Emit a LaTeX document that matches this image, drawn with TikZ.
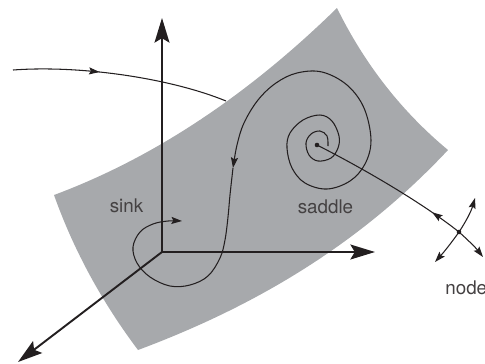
\documentclass[tikz,border=0pt]{standalone}
\usepackage{fontspec}
\setsansfont{TeX Gyre Heros}
\usetikzlibrary{arrows.meta,decorations.markings}
\definecolor{sheetgray}{RGB}{167,169,172}
\definecolor{inkblack}{RGB}{35,31,32}

\begin{document}
\begin{tikzpicture}[x=0.02cm, y=-0.02cm,
    axis/.style={line width=1.1pt, inkblack, -{Stealth[length=14pt, width=8.5pt, inset=2.5pt]}},
    flow/.style={line width=0.6pt, inkblack},
    tip/.style={-{Stealth[length=6pt, width=4pt, inset=1pt]}},
    midarrow/.style={postaction={decorate}, decoration={markings,
        mark=at position #1 with {\arrow{Stealth[length=6pt, width=4pt, inset=1pt]}}}},
    backarrow/.style={postaction={decorate}, decoration={markings,
        mark=at position #1 with {\arrowreversed{Stealth[length=6pt, width=4pt, inset=1pt]}}}},
    fixdot/.style={circle, fill=inkblack, inner sep=0pt, minimum size=2.6pt},
    lbl/.style={font=\sffamily\fontsize{10.7}{12}\selectfont, text=inkblack!85, anchor=base, inner sep=0pt}]
    \useasboundingbox (0,0) rectangle (485,363);

    % orbit coming in from outside, passing behind the sheet
    \coordinate (inA) at (13,70);
    \coordinate (inB) at (226,101);
    \draw[flow, midarrow=0.4] (inA) .. controls (80,65) and (170,78) .. (inB);

    % curved sheet
    \fill[sheetgray] (54,195) .. controls (148,160) and (243,100) .. (337,8)
        .. controls (364,63) and (401,111) .. (448,150)
        .. controls (360,244) and (256,306) .. (138,350)
        .. controls (102,302) and (74,251) .. cycle;

    % axes
    \coordinate (O) at (162,252);
    \coordinate (zend) at (162,18);
    \coordinate (yend) at (375,252);
    \coordinate (xend) at (18,362);
    \draw[axis] (O) -- (zend);
    \draw[axis] (O) -- (yend);
    \draw[axis] (O) -- (xend);

    % spiral leaving the centre, then down into the sink
    \node[fixdot] (spiralc) at (317,145) {};
    \draw[flow, tip] plot[smooth, tension=0.6] coordinates {(328,146) (327,136) (320,131)
        (311,134) (306,143) (309,155) (318,161) (331,158) (338,148) (339,136) (332,121)
        (320,115) (303,120) (290,133) (287,148) (292,168) (305,183) (327,189) (350,181)
        (365,164) (371,140) (364,108) (347,85) (322,72) (297,73) (276,83) (258,100)
        (244,123) (237,145) (233,168)};
    \draw[flow, tip] plot[smooth, tension=0.6] coordinates {(233,168) (230,195) (228,217)
        (225,240) (220,258) (208,276) (190,285) (170,286) (150,277) (137,263) (133,247)
        (140,232) (153,224) (168,221) (182,221)};

    % node with its four branches
    \node[fixdot] (nodept) at (459,232) {};
    \coordinate (nwend) at (435,262);
    \coordinate (neend) at (475,198);
    \coordinate (seend) at (483,257);
    \draw[flow, backarrow=0.8] (spiralc.center) .. controls (370,172) and (425,205) .. (nodept.center);
    \draw[flow, tip] (nodept.center) .. controls (468,240) and (476,248) .. (seend);
    \draw[flow, tip] (nodept.center) .. controls (452,242) and (444,252) .. (nwend);
    \draw[flow, tip] (nodept.center) .. controls (465,223) and (471,212) .. (neend);

    % labels
    \node[lbl] (sinklbl) at (126.5,212.7) {sink};
    \node[lbl] (saddlelbl) at (325.5,213) {saddle};
    \node[lbl, anchor=base west] (nodelbl) at (445,294) {node};
\end{tikzpicture}
\end{document}
